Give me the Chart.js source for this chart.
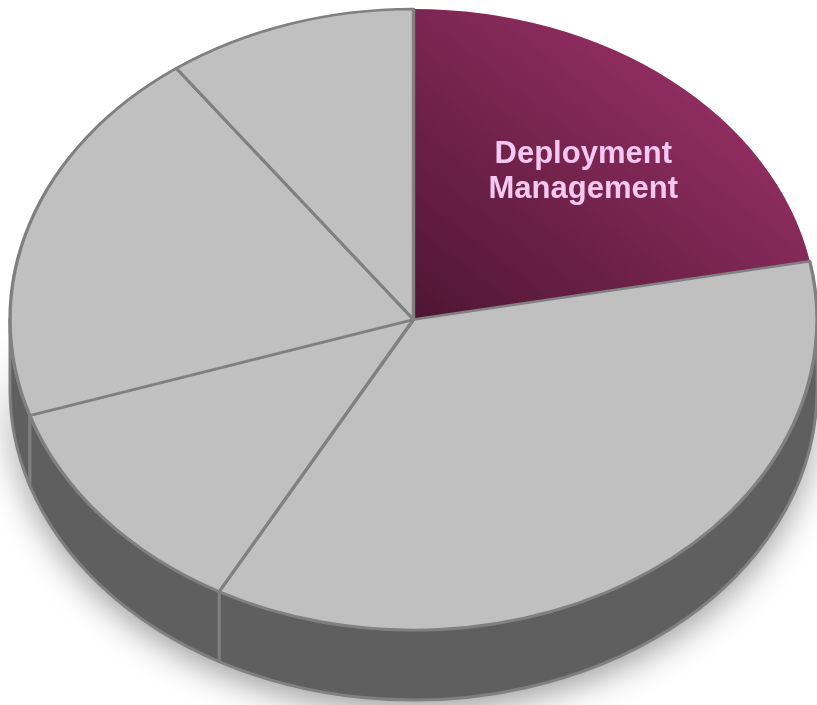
<!DOCTYPE html>
<html>
<head>
<meta charset="utf-8">
<style>
  html, body { margin: 0; padding: 0; background: #ffffff; }
  #wrap { width: 817px; height: 705px; position: relative; }
</style>
<script src="https://cdn.jsdelivr.net/npm/chart.js@4.4.1/dist/chart.umd.min.js"></script>
</head>
<body>
<div id="wrap"><canvas id="chart"></canvas></div>
<script>
// ---- data ----
const categories = ["Deployment Management", "Segment 2", "Segment 3", "Segment 4", "Segment 5"];
const values = [22, 36, 12, 20, 10];
const labelledSlices = [0];

// ---- styling ----
const topGray = "#c0c0c0";
const edgeGray = "#808080";
const sideGray = "#5f5f5f";
const purpleDark = "#4a1430";
const purpleLight = "#8e2d5f";
const labelColor = "#f4c8f0";
const labelFontSize = 31;

function sliceFill(context) {
  if (context.dataIndex !== 0) return topGray;
  const chart = context.chart;
  const ca = chart.chartArea;
  if (!ca) return purpleLight;
  const cx = (ca.left + ca.right) / 2, cy = (ca.top + ca.bottom) / 2;
  const R = Math.min(ca.width, ca.height) / 2;
  const g = chart.ctx.createLinearGradient(cx - R * 0.05, cy + R * 0.05, cx + R * 0.7, cy - R * 0.7);
  g.addColorStop(0, purpleDark);
  g.addColorStop(1, purpleLight);
  return g;
}

const pie3d = {
  id: 'pie3d',
  beforeDatasetsDraw(chart, args, opts) {
    const meta = chart.getDatasetMeta(0);
    if (!meta.data.length) return;
    const a0 = meta.data[0];
    const ca = chart.chartArea;
    const cx = a0.x, cy = a0.y, R = a0.outerRadius;
    const sx = (ca.width / 2) / R, sy = (ca.height / 2) / R;
    const rx = R * sx, ry = R * sy, d = opts.depth;
    const ctx = chart.ctx;
    chart.$pie3d = { cx, cy, R, sx, sy };

    // soft shadow under the side wall
    ctx.save();
    ctx.shadowColor = 'rgba(0,0,0,0.4)';
    ctx.shadowBlur = 34;
    ctx.shadowOffsetY = 10;
    ctx.beginPath();
    ctx.ellipse(cx, cy, rx, ry, 0, 0, Math.PI, false);
    ctx.ellipse(cx, cy + d, rx, ry, 0, Math.PI, 0, true);
    ctx.closePath();
    ctx.fillStyle = sideGray;
    ctx.fill();
    ctx.restore();

    // side walls per slice (front half only)
    ctx.save();
    ctx.lineWidth = 3;
    ctx.strokeStyle = edgeGray;
    ctx.lineJoin = 'round';
    meta.data.forEach((arc) => {
      const s = Math.max(arc.startAngle, 0);
      const e = Math.min(arc.endAngle, Math.PI);
      if (e <= s) return;
      ctx.beginPath();
      ctx.ellipse(cx, cy, rx, ry, 0, s, e, false);
      ctx.ellipse(cx, cy + d, rx, ry, 0, e, s, true);
      ctx.closePath();
      ctx.fillStyle = sideGray;
      ctx.fill();
      ctx.stroke();
    });
    ctx.restore();

    // tilt: stretch the round pie into the ellipse of the top face
    ctx.save();
    ctx.translate(cx, cy);
    ctx.scale(sx, sy);
    ctx.translate(-cx, -cy);
  },
  afterDatasetsDraw(chart, args, opts) {
    const ctx = chart.ctx;
    ctx.restore();
    const p = chart.$pie3d;
    if (!p) return;
    const meta = chart.getDatasetMeta(0);
    labelledSlices.forEach((i) => {
      const arc = meta.data[i];
      const mid = (arc.startAngle + arc.endAngle) / 2;
      const r = p.R * opts.labelRadius;
      const x = p.cx + p.sx * r * Math.cos(mid);
      const y = p.cy + p.sy * r * Math.sin(mid);
      const lines = chart.data.labels[i].split(' ');
      ctx.save();
      ctx.fillStyle = labelColor;
      ctx.font = 'bold ' + labelFontSize + 'px "Liberation Sans", Arial, sans-serif';
      ctx.textAlign = 'center';
      ctx.textBaseline = 'alphabetic';
      const lh = 35;
      lines.forEach((ln, k) => {
        ctx.fillText(ln, x, y + (k - (lines.length - 1) / 2) * lh + labelFontSize * 0.6);
      });
      ctx.restore();
    });
  }
};

new Chart(document.getElementById('chart'), {
  type: 'pie',
  data: {
    labels: categories,
    datasets: [{
      data: values,
      backgroundColor: sliceFill,
      borderColor: edgeGray,
      borderWidth: values.map((v, i) => i === 0 ? 0 : 2.6),
      borderJoinStyle: 'round',
      clip: false
    }]
  },
  options: {
    responsive: true,
    maintainAspectRatio: false,
    animation: false,
    events: [],
    layout: { padding: { left: 10, right: 0, top: 9, bottom: 75 } },
    plugins: {
      legend: { display: false },
      tooltip: { enabled: false },
      pie3d: { depth: 70, labelRadius: 0.66 }
    }
  },
  plugins: [pie3d]
});
</script>
</body>
</html>
